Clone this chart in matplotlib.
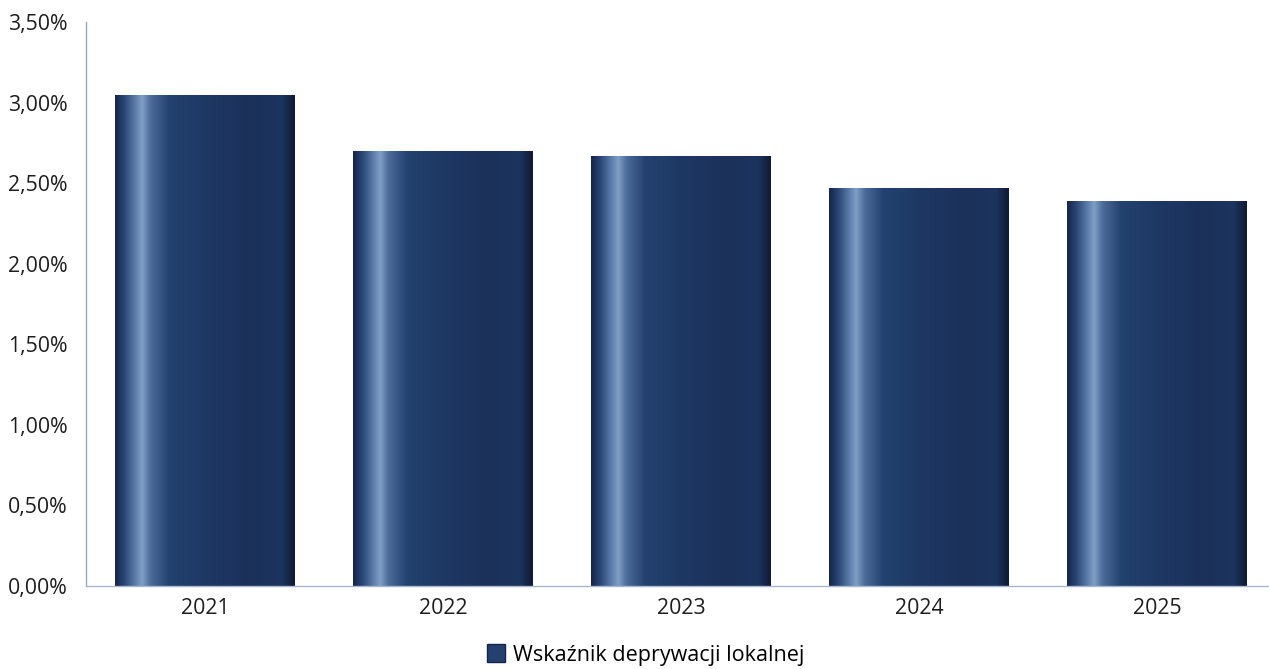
import numpy as np
import matplotlib
matplotlib.use("Agg")
import matplotlib.pyplot as plt
from matplotlib.colors import LinearSegmentedColormap
from matplotlib.patches import Rectangle
from matplotlib.ticker import FuncFormatter

# data
years = ["2021", "2022", "2023", "2024", "2025"]
values = [3.05, 2.70, 2.67, 2.47, 2.39]
series_name = "Wskaźnik deprywacji lokalnej"

plt.rcParams['font.family'] = ['Open Sans', 'DejaVu Sans']

# bar gradient (left -> right)
grad = LinearSegmentedColormap.from_list("bar", [
    (0.00, "#15254a"),
    (0.05, "#2a4675"),
    (0.11, "#5a7ba8"),
    (0.15, "#7f9fc6"),
    (0.20, "#4a6a98"),
    (0.30, "#24426f"),
    (0.50, "#1e3864"),
    (0.75, "#1b315a"),
    (0.93, "#1c345e"),
    (1.00, "#0f1a33"),
])

fig = plt.figure(figsize=(12.69, 6.69), dpi=100)
ax = fig.add_axes([86/1269, 1 - 586/669, 1183/1269, 564/669])

bars = ax.bar(range(len(years)), values, width=0.756, color="none", zorder=2)
g = np.linspace(0, 1, 256).reshape(1, -1)
for b in bars:
    x0, y0 = b.get_x(), b.get_y()
    im = ax.imshow(g, cmap=grad, aspect="auto", zorder=2,
                   extent=[x0, x0 + b.get_width(), y0, y0 + b.get_height()])
    im.set_clip_path(b)

ax.set_xlim(-0.5, -0.5 + 1183/238)
ax.set_ylim(0, 3.5)
ax.set_yticks(np.arange(0, 3.51, 0.5))
ax.yaxis.set_major_formatter(FuncFormatter(lambda v, p: f"{v:.2f}%".replace(".", ",")))
ax.set_xticks(range(len(years)))
ax.set_xticklabels(years)
ax.tick_params(axis="both", length=0, labelsize=15.3, colors="#1e1e1e")
ax.tick_params(axis="x", pad=9)
ax.tick_params(axis="y", pad=13)

for s in ["top", "right"]:
    ax.spines[s].set_visible(False)
ax.spines["left"].set_color("#9aa6bd")
ax.spines["left"].set_linestyle((0, (1, 1)))
ax.spines["bottom"].set_color("#a9b6cc")
for s in ["left", "bottom"]:
    ax.spines[s].set_linewidth(1.0)

handle = Rectangle((0, 0), 1, 1, facecolor="#23406e", edgecolor="#15254a")
fig.legend([handle], [series_name], loc="center", bbox_to_anchor=(646/1269, 1 - 655/669),
           frameon=False, fontsize=15.5, handlelength=0.8, handleheight=0.9,
           handletextpad=0.4)

fig.savefig("out.png", dpi=100)
